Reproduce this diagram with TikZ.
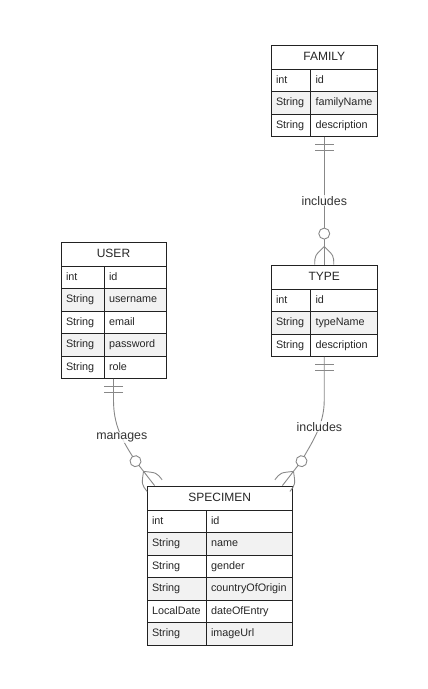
\documentclass[tikz,border=0pt]{standalone}
\usepackage{fontspec}
\setmainfont{Liberation Sans}
\usetikzlibrary{calc, fit}
\definecolor{boxline}{RGB}{34,34,34}
\definecolor{rowgray}{RGB}{242,242,242}
\definecolor{relgray}{RGB}{136,136,136}
\definecolor{labeltext}{RGB}{51,51,51}
\newcommand{\cellfont}{\fontsize{10.8}{12}\selectfont}
\newcommand{\headfont}{\fontsize{12}{14}\selectfont}
\newcommand{\relfont}{\fontsize{12.4}{14}\selectfont}

\tikzset{
  ehead/.style={draw=boxline, line width=0.8pt, fill=white, anchor=north west,
    minimum height=24pt, inner sep=0pt, outer sep=0pt, font=\headfont,
    text=black!85, text height=8.6pt, text depth=2.5pt},
  ecell/.style={draw=boxline, line width=0.8pt, anchor=north west, align=left,
    minimum height=22.5pt, inner xsep=5pt, inner ysep=0pt, outer sep=0pt,
    font=\cellfont, text=black!85, text height=8pt, text depth=2.5pt},
  ebox/.style={draw=boxline, line width=0.8pt, inner sep=0pt},
  rel/.style={draw=relgray, line width=0.9pt},
  rellabel/.style={font=\relfont, text=labeltext, fill=white, fill opacity=0.8,
    text opacity=1, inner sep=1pt},
  crowfoot/.pic={
    \draw[rel] (-18,0) .. controls (-9,9.5) .. (0,9.5);
    \draw[rel] (-18,0) .. controls (-9,-9.5) .. (0,-9.5);
    \filldraw[rel, fill=white] (-31,0) circle (5.5);
  },
  onlyone/.pic={
    \draw[rel] (8,-9.5) -- (8,9.5) (14,-9.5) -- (14,9.5);
  }
}

\begin{document}
\begin{tikzpicture}[x=1pt, y=-1pt]
\useasboundingbox (0,0) rectangle (428,689);

% =============================================================================
% FAMILY
% =============================================================================
\node[ehead, minimum width=106.5pt] (family) at (271,45) {FAMILY};
\foreach \i/\t/\n in {1/int/id, 2/String/familyName, 3/String/description} {
  \ifodd\i \def\rf{white}\else \def\rf{rowgray}\fi
  \node[ecell, fill=\rf, text width=29.5pt] (family-t\i) at (271, 69+22.5*\i-22.5) {\t};
  \node[ecell, fill=\rf, text width=57pt] (family-n\i) at (310.5, 69+22.5*\i-22.5) {\n};
}
\node[ebox, fit=(family)(family-n3)] (familyBox) {};

% =============================================================================
% TYPE
% =============================================================================
\node[ehead, minimum width=106.5pt] (type) at (271,265) {TYPE};
\foreach \i/\t/\n in {1/int/id, 2/String/typeName, 3/String/description} {
  \ifodd\i \def\rf{white}\else \def\rf{rowgray}\fi
  \node[ecell, fill=\rf, text width=29.5pt] (type-t\i) at (271, 289+22.5*\i-22.5) {\t};
  \node[ecell, fill=\rf, text width=57pt] (type-n\i) at (310.5, 289+22.5*\i-22.5) {\n};
}
\node[ebox, fit=(type)(type-n3)] (typeBox) {};

% =============================================================================
% USER
% =============================================================================
\node[ehead, minimum width=105pt] (user) at (61,242) {USER};
\foreach \i/\t/\n in {1/int/id, 2/String/username, 3/String/email,
                      4/String/password, 5/String/role} {
  \ifodd\i \def\rf{white}\else \def\rf{rowgray}\fi
  \node[ecell, fill=\rf, text width=33pt] (user-t\i) at (61, 266+22.5*\i-22.5) {\t};
  \node[ecell, fill=\rf, text width=52pt] (user-n\i) at (104, 266+22.5*\i-22.5) {\n};
}
\node[ebox, fit=(user)(user-n5)] (userBox) {};

% =============================================================================
% SPECIMEN
% =============================================================================
\node[ehead, minimum width=145.5pt] (specimen) at (147,486) {SPECIMEN};
\foreach \i/\t/\n in {1/int/id, 2/String/name, 3/String/gender,
                      4/String/countryOfOrigin, 5/LocalDate/dateOfEntry, 6/String/imageUrl} {
  \ifodd\i \def\rf{white}\else \def\rf{rowgray}\fi
  \node[ecell, fill=\rf, text width=49pt] (specimen-t\i) at (147, 510+22.5*\i-22.5) {\t};
  \node[ecell, fill=\rf, text width=76.5pt] (specimen-n\i) at (206, 510+22.5*\i-22.5) {\n};
}
\node[ebox, fit=(specimen)(specimen-n6)] (specimenBox) {};

% =============================================================================
% RELATIONS
% =============================================================================
\coordinate (uEnd) at ($(specimenBox.north west)+(8,0)$);
\coordinate (uRing) at ($(uEnd)+(-19,-24.5)$);
\coordinate (tEnd) at ($(specimenBox.north east)+(-10.5,0)$);
\coordinate (tRing) at ($(tEnd)+(19,-24.5)$);

% FAMILY -- TYPE
\draw[rel] (familyBox.south) -- node[rellabel] (lblFamType) {includes} (typeBox.north);
\pic[rotate=-90] at (familyBox.south) {onlyone};
\pic[rotate=-90] at (typeBox.north) {crowfoot};

% USER -- SPECIMEN
\draw[rel] (userBox.south) -- ++(0,21) .. controls +(0,25) and +(-14,-21.5) .. (uRing)
  node[rellabel, pos=0.6] (lblUserSpec) {manages} -- (uEnd);
\pic[rotate=-90] at (userBox.south) {onlyone};
\pic[rotate=-52] at (uEnd) {crowfoot};

% TYPE -- SPECIMEN
\draw[rel] (typeBox.south) -- ++(0,43) .. controls +(0,25) and +(11,-19.5) .. (tRing)
  node[rellabel, pos=0.4] (lblTypeSpec) {includes} -- (tEnd);
\pic[rotate=-90] at (typeBox.south) {onlyone};
\pic[rotate=-128] at (tEnd) {crowfoot};

\end{tikzpicture}
\end{document}
